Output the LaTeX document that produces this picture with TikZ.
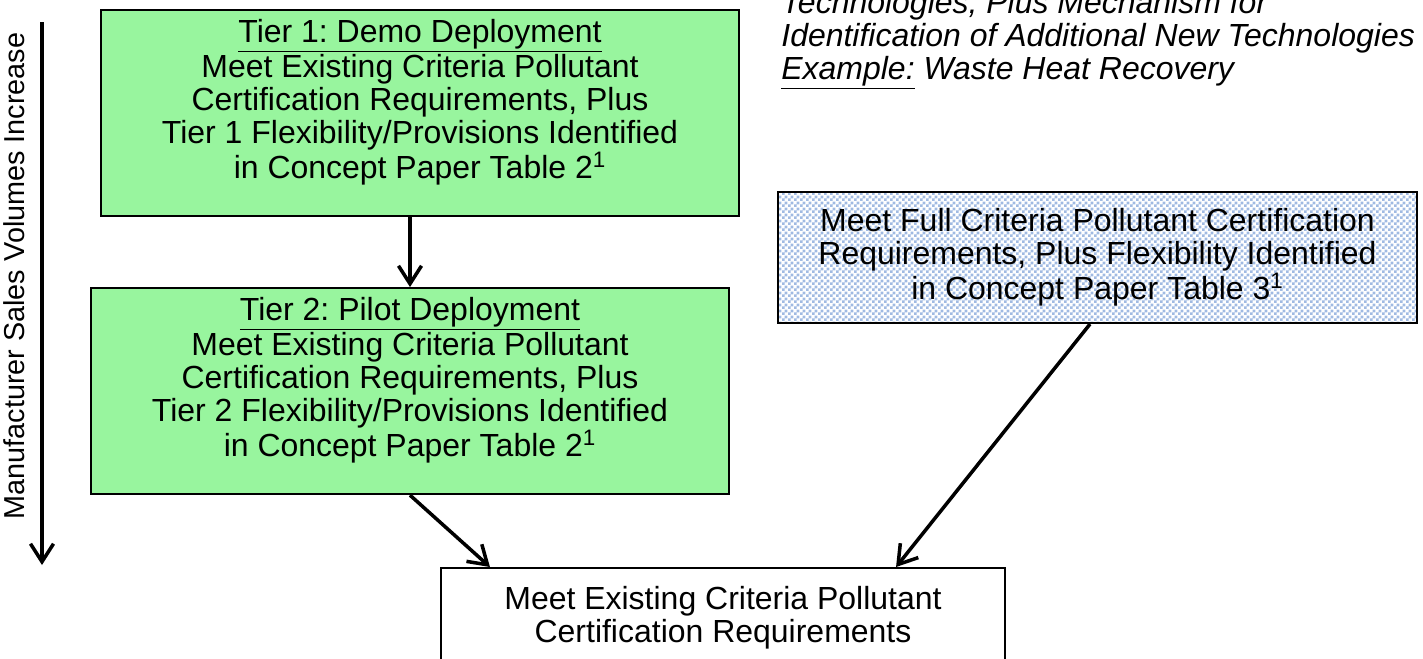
\documentclass[tikz,border=0pt]{standalone}
\usepackage{fontspec}
\setmainfont{Liberation Sans}
\usetikzlibrary{positioning,arrows.meta,patterns}
\frenchspacing

\definecolor{tiergreen}{RGB}{152,245,158}
\definecolor{checkblue}{RGB}{160,186,226}
\pgfdeclarepatternformonly{checker}{\pgfpointorigin}{\pgfqpoint{3.2pt}{3.2pt}}{\pgfqpoint{3.2pt}{3.2pt}}{
\pgfpathrectangle{\pgfpointorigin}{\pgfqpoint{1.6pt}{1.6pt}}
\pgfpathrectangle{\pgfqpoint{1.6pt}{1.6pt}}{\pgfqpoint{1.6pt}{1.6pt}}
\pgfusepath{fill}}

\begin{document}
\begin{tikzpicture}[
  font = \fontsize{18.2}{18.8}\selectfont,
  tierbox/.style = {draw, line width = 1.2pt, fill = tiergreen, shape = rectangle, align = center, minimum width = 12.76cm, minimum height = 4.12cm, text depth = 16pt},
  flexbox/.style = {draw, line width = 1.2pt, pattern = checker, pattern color = checkblue, shape = rectangle, align = center, minimum width = 12.78cm, minimum height = 2.62cm},
  basebox/.style = {draw, line width = 1.2pt, fill = white, shape = rectangle, align = center, minimum width = 11.28cm, minimum height = 1.98cm},
  flow/.style = {-{Straight Barb[length=0.36cm, width=0.46cm]}, line width = 2pt}]
\useasboundingbox (0,0) rectangle (28.46,-13.16);
\clip (0,0) rectangle (28.46,-13.16);

\node[tierbox] (tier1) at (8.40,-2.26) {\underline{Tier 1: Demo Deployment}\\ Meet Existing Criteria Pollutant\\ Certification Requirements, Plus\\ Tier 1 Flexibility/Provisions Identified\\ in Concept Paper Table 2\textsuperscript{1}};
\node[tierbox, below = 1.4cm of tier1, xshift = -0.2cm] (tier2) {\underline{Tier 2: Pilot Deployment}\\ Meet Existing Criteria Pollutant\\ Certification Requirements, Plus\\ Tier 2 Flexibility/Provisions Identified\\ in Concept Paper Table 2\textsuperscript{1}};
\node[flexbox] (full) at (21.95,-5.15) {Meet Full Criteria Pollutant Certification\\ Requirements, Plus Flexibility Identified\\ in Concept Paper Table 3\textsuperscript{1}};
\node[basebox, anchor = north] (base) at (14.46,-11.34) {Meet Existing Criteria Pollutant\\ Certification Requirements};
\node[anchor = north west, align = left, inner sep = 0pt, font = \fontsize{18.2}{18.8}\selectfont\itshape] (newtech) at (15.62,0.20) {Technologies, Plus Mechanism for\\ Identification of Additional New Technologies\\ \underline{Example:} Waste Heat Recovery};

% volume axis
\coordinate (vtop) at (0.84,-0.44);
\coordinate (vbot) at (0.84,-11.30);
\draw[flow] (vtop) -- (vbot);
\node[rotate = 90, font = \fontsize{16.4}{17}\selectfont] (volume) at (0.28,-5.52) {Manufacturer Sales Volumes Increase};

\draw[flow] (tier1.south -| tier2.north) -- (tier2.north);
\draw[flow] (tier2.south) -- ([xshift = 1.0cm]base.north west);
\draw[flow] ([xshift = -0.15cm]full.south) -- ([xshift = -2.2cm]base.north east);
\end{tikzpicture}
\end{document}
